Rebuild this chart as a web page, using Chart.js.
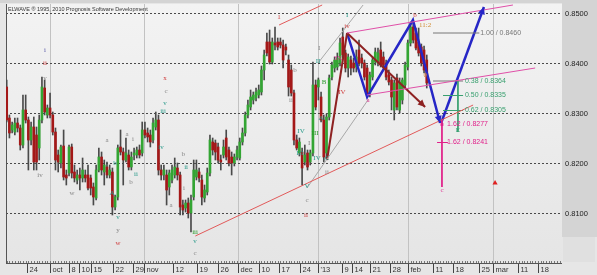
<!DOCTYPE html>
<html>
<head>
<meta charset="utf-8">
<script src="https://cdn.jsdelivr.net/npm/chart.js@4"></script>
<style>
  html, body { margin: 0; padding: 0; background: #e8e8e8; }
  canvas { display: block; }
</style>
</head>
<body>
<canvas id="chart" width="597" height="275"></canvas>
<script>
// daily candles, one slot per bar
const opens = [
  0.8352, 0.8290, 0.8266, 0.8262, 0.8280, 0.8270, 0.8236, 0.8306, 0.8286, 0.8246,
  0.8272, 0.8256, 0.8230, 0.8286, 0.8350, 0.8296, 0.8310, 0.8296, 0.8262, 0.8216,
  0.8200, 0.8234, 0.8176, 0.8180, 0.8232, 0.8182, 0.8166, 0.8176, 0.8170, 0.8176,
  0.8176, 0.8170, 0.8152, 0.8130, 0.8186, 0.8212, 0.8182, 0.8192, 0.8176, 0.8182,
  0.8112, 0.8132, 0.8232, 0.8222, 0.8206, 0.8216, 0.8192, 0.8216, 0.8216, 0.8226,
  0.8220, 0.8266, 0.8260, 0.8256, 0.8246, 0.8272, 0.8286, 0.8186, 0.8176, 0.8176,
  0.8152, 0.8166, 0.8176, 0.8190, 0.8176, 0.8116, 0.8110, 0.8120, 0.8100, 0.8132,
  0.8172, 0.8182, 0.8166, 0.8130, 0.8142, 0.8180, 0.8242, 0.8240, 0.8232, 0.8206,
  0.8216, 0.8250, 0.8226, 0.8212, 0.8200, 0.8212, 0.8210, 0.8242, 0.8260, 0.8296,
  0.8312, 0.8326, 0.8330, 0.8336, 0.8342, 0.8386, 0.8442, 0.8442, 0.8402, 0.8440,
  0.8442, 0.8442, 0.8436, 0.8432, 0.8406, 0.8386, 0.8340, 0.8246, 0.8220, 0.8222,
  0.8202, 0.8220, 0.8202, 0.8220, 0.8356, 0.8352, 0.8332, 0.8286, 0.8220, 0.8292,
  0.8372, 0.8390, 0.8392, 0.8400, 0.8452, 0.8420, 0.8390, 0.8406, 0.8400, 0.8392,
  0.8426, 0.8410, 0.8400, 0.8390, 0.8340, 0.8372, 0.8402, 0.8400, 0.8426, 0.8412,
  0.8400, 0.8376, 0.8366, 0.8306, 0.8370, 0.8306, 0.8326, 0.8356, 0.8392, 0.8440,
  0.8472, 0.8460, 0.8442, 0.8432, 0.8426, 0.8406
];
const highs = [
  0.8366, 0.8296, 0.8282, 0.8290, 0.8290, 0.8276, 0.8336, 0.8336, 0.8292, 0.8282,
  0.8292, 0.8272, 0.8296, 0.8372, 0.8366, 0.8316, 0.8340, 0.8302, 0.8270, 0.8226,
  0.8236, 0.8266, 0.8186, 0.8236, 0.8238, 0.8196, 0.8186, 0.8190, 0.8210, 0.8186,
  0.8196, 0.8176, 0.8160, 0.8196, 0.8230, 0.8222, 0.8206, 0.8202, 0.8196, 0.8190,
  0.8136, 0.8236, 0.8266, 0.8230, 0.8250, 0.8226, 0.8222, 0.8230, 0.8232, 0.8236,
  0.8282, 0.8282, 0.8270, 0.8266, 0.8290, 0.8302, 0.8296, 0.8196, 0.8196, 0.8186,
  0.8186, 0.8196, 0.8210, 0.8200, 0.8182, 0.8126, 0.8126, 0.8130, 0.8136, 0.8206,
  0.8206, 0.8190, 0.8176, 0.8156, 0.8190, 0.8256, 0.8250, 0.8246, 0.8240, 0.8216,
  0.8246, 0.8266, 0.8232, 0.8222, 0.8218, 0.8234, 0.8250, 0.8270, 0.8302, 0.8326,
  0.8346, 0.8342, 0.8350, 0.8356, 0.8394, 0.8426, 0.8460, 0.8466, 0.8450, 0.8472,
  0.8450, 0.8450, 0.8446, 0.8438, 0.8416, 0.8396, 0.8346, 0.8256, 0.8250, 0.8230,
  0.8236, 0.8226, 0.8226, 0.8402, 0.8366, 0.8370, 0.8342, 0.8296, 0.8298, 0.8376,
  0.8402, 0.8412, 0.8420, 0.8450, 0.8470, 0.8426, 0.8418, 0.8414, 0.8410, 0.8426,
  0.8446, 0.8418, 0.8406, 0.8396, 0.8382, 0.8412, 0.8430, 0.8430, 0.8442, 0.8422,
  0.8406, 0.8386, 0.8372, 0.8366, 0.8378, 0.8370, 0.8370, 0.8402, 0.8446, 0.8482,
  0.8478, 0.8470, 0.8470, 0.8438, 0.8434, 0.8416
];
const lows = [
  0.8282, 0.8250, 0.8260, 0.8256, 0.8262, 0.8226, 0.8230, 0.8280, 0.8186, 0.8236,
  0.8186, 0.8186, 0.8206, 0.8280, 0.8296, 0.8290, 0.8290, 0.8256, 0.8186, 0.8182,
  0.8190, 0.8166, 0.8156, 0.8174, 0.8170, 0.8162, 0.8158, 0.8146, 0.8162, 0.8162,
  0.8146, 0.8136, 0.8116, 0.8126, 0.8182, 0.8176, 0.8156, 0.8170, 0.8170, 0.8096,
  0.8106, 0.8126, 0.8216, 0.8156, 0.8202, 0.8186, 0.8186, 0.8206, 0.8210, 0.8210,
  0.8214, 0.8250, 0.8242, 0.8232, 0.8240, 0.8266, 0.8176, 0.8166, 0.8166, 0.8116,
  0.8136, 0.8160, 0.8170, 0.8166, 0.8096, 0.8096, 0.8102, 0.8090, 0.8062, 0.8126,
  0.8166, 0.8162, 0.8116, 0.8122, 0.8136, 0.8174, 0.8216, 0.8206, 0.8200, 0.8186,
  0.8210, 0.8206, 0.8194, 0.8176, 0.8194, 0.8206, 0.8206, 0.8236, 0.8254, 0.8290,
  0.8306, 0.8318, 0.8324, 0.8330, 0.8336, 0.8366, 0.8414, 0.8398, 0.8398, 0.8426,
  0.8426, 0.8430, 0.8390, 0.8416, 0.8334, 0.8334, 0.8236, 0.8226, 0.8214, 0.8156,
  0.8196, 0.8186, 0.8196, 0.8214, 0.8306, 0.8326, 0.8282, 0.8202, 0.8210, 0.8286,
  0.8366, 0.8382, 0.8386, 0.8394, 0.8410, 0.8382, 0.8372, 0.8376, 0.8382, 0.8382,
  0.8394, 0.8390, 0.8366, 0.8330, 0.8332, 0.8366, 0.8396, 0.8394, 0.8392, 0.8390,
  0.8366, 0.8356, 0.8306, 0.8286, 0.8306, 0.8300, 0.8318, 0.8350, 0.8386, 0.8434,
  0.8440, 0.8426, 0.8414, 0.8394, 0.8380, 0.8350
];
const closes = [
  0.8286, 0.8260, 0.8276, 0.8280, 0.8270, 0.8236, 0.8306, 0.8286, 0.8246, 0.8272,
  0.8202, 0.8202, 0.8286, 0.8352, 0.8302, 0.8310, 0.8296, 0.8262, 0.8206, 0.8202,
  0.8232, 0.8172, 0.8170, 0.8232, 0.8180, 0.8170, 0.8176, 0.8170, 0.8186, 0.8170,
  0.8150, 0.8150, 0.8132, 0.8186, 0.8212, 0.8186, 0.8196, 0.8176, 0.8186, 0.8112,
  0.8132, 0.8230, 0.8222, 0.8206, 0.8220, 0.8192, 0.8212, 0.8220, 0.8226, 0.8216,
  0.8266, 0.8256, 0.8252, 0.8242, 0.8280, 0.8286, 0.8186, 0.8176, 0.8186, 0.8146,
  0.8180, 0.8186, 0.8192, 0.8176, 0.8112, 0.8106, 0.8120, 0.8100, 0.8126, 0.8186,
  0.8186, 0.8170, 0.8132, 0.8146, 0.8180, 0.8246, 0.8226, 0.8222, 0.8206, 0.8202,
  0.8232, 0.8212, 0.8200, 0.8200, 0.8212, 0.8226, 0.8242, 0.8260, 0.8296, 0.8316,
  0.8332, 0.8336, 0.8342, 0.8346, 0.8386, 0.8416, 0.8420, 0.8402, 0.8442, 0.8436,
  0.8432, 0.8436, 0.8406, 0.8426, 0.8352, 0.8340, 0.8246, 0.8230, 0.8242, 0.8190,
  0.8216, 0.8192, 0.8220, 0.8356, 0.8312, 0.8366, 0.8286, 0.8212, 0.8292, 0.8370,
  0.8396, 0.8406, 0.8410, 0.8440, 0.8416, 0.8390, 0.8412, 0.8390, 0.8390, 0.8412,
  0.8400, 0.8400, 0.8372, 0.8336, 0.8376, 0.8406, 0.8422, 0.8420, 0.8396, 0.8396,
  0.8372, 0.8362, 0.8332, 0.8360, 0.8312, 0.8362, 0.8366, 0.8396, 0.8440, 0.8472,
  0.8446, 0.8430, 0.8420, 0.8400, 0.8386, 0.8360
];

const priceTicks = [0.8100, 0.8200, 0.8300, 0.8400, 0.8500];
const dateTickSlots = [7.5, 16, 23, 26.7, 31.1, 39.2, 46.6, 50.7, 61.4, 70.2, 78, 85.2, 93.1, 100.5,
  108.2, 114.7, 123.7, 127.4, 134, 141.4, 148.1, 157.3, 164.7, 174.3, 179.4, 188.7, 196.1];
const dateTickText = ['24', 'oct', '8', '10', '15', '22', '29', 'nov', '12', '19', '26', 'dec', '10', '17',
  '24', "'13", '9', '14', '21', '28', 'feb', '11', '18', '25', 'mar', '11', '18'];
const monthSlots = [16, 50.7, 85.2, 114.7, 148.1, 179.4];

// trend and channel lines [slot, price] pairs
const redTrendLow = [[69.6, 0.8054], [172.1, 0.8316]];
const redTrendHigh = [[100.5, 0.8476], [116.4, 0.8516]];
const grayLineA = [[110.8, 0.8150], [133.3, 0.8326]];
const grayLineB = [[114.9, 0.8400], [131.5, 0.8516]];
const pinkUpper = [[125.6, 0.8460], [186.8, 0.8516]];
const pinkLower = [[133.0, 0.8336], [195.0, 0.8390]];
const darkRedUp = [[118.2, 0.8206], [125.6, 0.8460]];
const darkRedArrow = [[125.6, 0.8460], [154.4, 0.8312]];
const blueZigzag = [[125.6, 0.8460], [133.0, 0.8332], [149.9, 0.8486], [159.9, 0.8280]];
const blueUp = [[160.3, 0.8280], [176.1, 0.8512]];

// projection levels
const greenRatios = [0.38, 0.50, 0.62];
const greenPrices = [0.8364, 0.8335, 0.8305];
const magentaRatios = [1.62, 1.62];
const magentaPrices = [0.8277, 0.8241];
const grayRatio = 1.00;
const grayPrice = 0.8460;

// wave labels: slot, price, text, colour
const waveLabels = [
  [14.1, 0.8426, 'i', '#5a5aa8'], [14.1, 0.8400, 'ii', '#d04040'], [14.1, 0.8370, 'v', '#888'],
  [58.4, 0.8370, 'x', '#d04040'], [58.8, 0.8344, 'c', '#888'], [58.4, 0.8320, 'v', '#2a9a8a'],
  [57.7, 0.8304, 'iii', '#2a9a8a'], [56.9, 0.8232, 'iv', '#2a9a8a'], [65.1, 0.8218, 'b', '#888'],
  [66.2, 0.8192, 'ii', '#2a9a8a'], [65.4, 0.8150, 'i', '#888'], [60.6, 0.8116, 'a', '#888'],
  [69.5, 0.8062, 'iii', '#2a9a2a'], [69.5, 0.8044, 'v', '#2a9a8a'], [69.5, 0.8020, 'c', '#888'],
  [41.1, 0.8092, 'v', '#2a9a8a'], [41.1, 0.8066, 'y', '#888'], [41.1, 0.8040, 'w', '#d04040'],
  [12.3, 0.8176, 'iv', '#888'], [24.1, 0.8140, 'w', '#888'], [37.0, 0.8246, 'a', '#888'],
  [40.0, 0.8200, 'b', '#2a9a8a'], [38.9, 0.8140, 'A', '#2a9a8a'], [44.4, 0.8258, 'a', '#888'],
  [46.6, 0.8248, 'i', '#888'], [45.9, 0.8162, 'b', '#888'], [47.7, 0.8178, 'ii', '#2a9a8a'],
  [100.5, 0.8492, '1', '#d04040'], [115.3, 0.8430, 'I', '#888'], [114.9, 0.8404, 'II', '#2a9a8a'],
  [117.1, 0.8362, 'B', '#2a9a2a'], [116.0, 0.8290, 'A', '#2a9a8a'], [125.6, 0.8496, 'I', '#2a9a8a'],
  [125.6, 0.8474, 'iv', '#d04040'], [122.3, 0.8410, '3X', '#e03090'], [123.7, 0.8342, 'IV', '#d04040'],
  [133.3, 0.8326, 'a', '#e03090'], [150.7, 0.8496, 'b', '#d04040'], [154.4, 0.8476, '11:2', '#d08a30'],
  [154.4, 0.8376, '0', '#d08a30'], [106.4, 0.8386, 'b', '#888'], [104.9, 0.8326, 'ii', '#888'],
  [108.6, 0.8264, 'IV', '#2a9a8a'], [108.2, 0.8220, 'III', '#2a9a8a'], [111.6, 0.8240, 'I', '#888'],
  [113.8, 0.8260, 'III', '#2a9a2a'], [114.5, 0.8210, 'IV', '#2a9a8a'], [118.2, 0.8210, 'C', '#2a9a8a'],
  [110.8, 0.8154, 'V', '#2a9a8a'], [110.8, 0.8126, 'c', '#888'], [110.4, 0.8096, 'ii', '#d04040'],
  [118.2, 0.8182, 'ii', '#888'], [166.5, 0.8266, 'E', '#2a9a6a'], [160.6, 0.8146, 'c', '#e03090']
];

const toXY = pts => pts.map(([x, y]) => ({ x, y }));
const slots = opens.map((_, i) => i);

function lineSet(pts, color, width, extra) {
  return Object.assign({
    type: 'line', data: toXY(pts), borderColor: color, borderWidth: width,
    pointRadius: 0, fill: false, tension: 0, order: 1,
  }, extra || {});
}

function arrowHead(ctx, x0, y0, x1, y1, size, color) {
  const ang = Math.atan2(y1 - y0, x1 - x0);
  ctx.fillStyle = color;
  ctx.beginPath();
  ctx.moveTo(x1, y1);
  ctx.lineTo(x1 - size * Math.cos(ang - 0.45), y1 - size * Math.sin(ang - 0.45));
  ctx.lineTo(x1 - size * Math.cos(ang + 0.45), y1 - size * Math.sin(ang + 0.45));
  ctx.closePath();
  ctx.fill();
}

const fibStartSlot = 157.3, fibEndSlot = 168.4, greenStartSlot = 161;
const greenSlot = 166.5, magentaSlot = 160.6;

const datasets = [
  {
    label: 'wicks', data: slots.map(i => ({ x: i, y: [lows[i], highs[i]] })),
    backgroundColor: '#4a4a4a', barThickness: 1, grouped: false, order: 5, minBarLength: 1,
  },
  {
    label: 'bodies', data: slots.map(i => ({ x: i, y: [opens[i], closes[i]] })),
    backgroundColor: slots.map(i => closes[i] >= opens[i] ? '#33a533' : '#a41818'),
    barThickness: 2, grouped: false, order: 4, minBarLength: 1,
  },
  lineSet(redTrendLow, '#e25a5a', 1),
  lineSet(redTrendHigh, '#e25a5a', 1),
  lineSet(grayLineA, '#a8a8a8', 1),
  lineSet(grayLineB, '#a8a8a8', 1),
  lineSet(pinkUpper, '#e050a8', 1),
  lineSet(pinkLower, '#e050a8', 1),
  lineSet([[fibStartSlot, grayPrice], [fibEndSlot + 6, grayPrice]], '#777', 1),
  lineSet([[fibStartSlot, greenPrices[0]], [fibEndSlot, greenPrices[0]]], '#777', 1),
  lineSet([[greenStartSlot, greenPrices[1]], [fibEndSlot, greenPrices[1]]], '#3aa070', 1),
  lineSet([[greenStartSlot, greenPrices[2]], [fibEndSlot, greenPrices[2]]], '#3aa070', 1),
  lineSet([[greenSlot, greenPrices[0]], [greenSlot, 0.8262]], '#3aa070', 1),
  lineSet([[magentaSlot, 0.8286], [magentaSlot, 0.8152]], '#e0208a', 1),
  lineSet([[magentaSlot - 1.8, magentaPrices[1]], [magentaSlot + 2.2, magentaPrices[1]]], '#e0208a', 1),
  lineSet(darkRedUp, '#8e2222', 2),
  lineSet(darkRedArrow, '#8e2222', 2, { arrow: true }),
  lineSet(blueZigzag, '#2626c6', 2.5, { arrow: true }),
  lineSet(blueUp, '#2626c6', 2.5, { arrow: true }),
  lineSet([[180.2, 0.8160]], '#e02020', 0, { showLine: false, pointRadius: 3, pointStyle: 'triangle', pointBackgroundColor: '#e02020' }),
  lineSet([[magentaSlot, magentaPrices[0]]], '#e0208a', 0, { showLine: false, pointRadius: 2, pointStyle: 'rect', pointBackgroundColor: '#e0208a' }),
];

const decor = {
  id: 'decor',
  beforeDraw(chart) {
    const { ctx, chartArea: a, scales: { x, y } } = chart;
    const W = chart.width, H = chart.height;
    ctx.save();
    ctx.fillStyle = '#e6e6e6';
    ctx.fillRect(0, 0, W, H);
    const g = ctx.createLinearGradient(0, a.top, 0, a.bottom);
    g.addColorStop(0, '#f3f3f3');
    g.addColorStop(1, '#e5e5e5');
    ctx.fillStyle = g;
    ctx.fillRect(a.left, a.top, a.right - a.left, a.bottom - a.top);
    ctx.fillStyle = '#d4d4d4';
    ctx.fillRect(0, 0, W, 3);
    ctx.fillRect(a.right, 0, W - a.right, a.bottom - 26);
    ctx.fillStyle = '#e0e0e0';
    ctx.fillRect(a.right + 1, a.bottom - 26, W - a.right - 3, 25);

    const hline = (x0, y0, x1, y1) => { ctx.beginPath(); ctx.moveTo(x0, y0); ctx.lineTo(x1, y1); ctx.stroke(); };

    ctx.lineWidth = 1;
    ctx.strokeStyle = '#c2c2c2';
    monthSlots.forEach(s => {
      const px = Math.round(x.getPixelForValue(s)) + 0.5;
      hline(px, a.top, px, a.bottom);
    });

    ctx.setLineDash([2, 2]);
    ctx.strokeStyle = '#4a4a4a';
    priceTicks.forEach(p => {
      const py = Math.round(y.getPixelForValue(p)) + 0.5;
      hline(a.left, py, a.right, py);
    });
    ctx.setLineDash([]);

    ctx.fillStyle = '#222';
    ctx.font = '7.5px "Liberation Sans", Arial, sans-serif';
    ctx.textBaseline = 'middle';
    ctx.textAlign = 'left';
    priceTicks.forEach(p => ctx.fillText(p.toFixed(4), a.right + 3, y.getPixelForValue(p) + 0.5));

    // frame and time axis
    ctx.strokeStyle = '#555';
    hline(a.left + 0.5, a.top, a.left + 0.5, a.bottom);
    hline(a.left, a.bottom + 0.5, a.right, a.bottom + 0.5);
    ctx.strokeStyle = '#777';
    for (let s = 0; s <= x.max; s++) {
      const px = Math.round(x.getPixelForValue(s)) + 0.5;
      hline(px, a.bottom - 2, px, a.bottom);
    }
    ctx.strokeStyle = '#444';
    ctx.fillStyle = '#333';
    ctx.textBaseline = 'alphabetic';
    dateTickSlots.forEach((s, i) => {
      const px = Math.round(x.getPixelForValue(s)) + 0.5;
      hline(px, a.bottom + 1, px, a.bottom + 10);
      ctx.fillText(dateTickText[i], px + 2, a.bottom + 9);
    });

    ctx.font = '5.5px "Liberation Sans", Arial, sans-serif';
    ctx.fillStyle = '#333';
    ctx.fillText('ELWAVE \u00AE 1995, 2010 Prognosis Software Development', a.left + 2, a.top + 7);
    ctx.restore();
  },
  afterDatasetsDraw(chart) {
    const { ctx, scales: { x, y } } = chart;
    ctx.save();
    chart.data.datasets.forEach((ds, i) => {
      if (!ds.arrow) return;
      const pts = chart.getDatasetMeta(i).data;
      const p0 = pts[pts.length - 2], p1 = pts[pts.length - 1];
      arrowHead(ctx, p0.x, p0.y, p1.x, p1.y, 8, ds.borderColor);
    });

    ctx.font = '7px "Liberation Serif", "DejaVu Serif", serif';
    ctx.textAlign = 'center';
    ctx.textBaseline = 'middle';
    waveLabels.forEach(([s, p, t, c]) => {
      ctx.fillStyle = c;
      ctx.fillText(t, x.getPixelForValue(s), y.getPixelForValue(p));
    });

    ctx.font = '7px "Liberation Sans", Arial, sans-serif';
    ctx.textAlign = 'left';
    ctx.fillStyle = '#777';
    ctx.fillText(grayRatio.toFixed(2) + ' / ' + grayPrice.toFixed(4), x.getPixelForValue(fibEndSlot + 6.3), y.getPixelForValue(grayPrice));
    ctx.fillStyle = '#3aa070';
    greenRatios.forEach((r, i) => {
      ctx.fillText(r.toFixed(2) + ' / ' + greenPrices[i].toFixed(4), x.getPixelForValue(fibEndSlot + 0.7), y.getPixelForValue(greenPrices[i]));
    });
    ctx.fillStyle = '#e0208a';
    magentaRatios.forEach((r, i) => {
      ctx.fillText(r.toFixed(2) + ' / ' + magentaPrices[i].toFixed(4), x.getPixelForValue(magentaSlot + 1.9), y.getPixelForValue(magentaPrices[i]));
    });
    ctx.restore();
  }
};

new Chart(document.getElementById('chart'), {
  type: 'bar',
  data: { datasets },
  options: {
    responsive: false,
    animation: false,
    devicePixelRatio: 1,
    layout: { padding: { left: 6, top: 4, right: 35, bottom: 12 } },
    plugins: { legend: { display: false }, tooltip: { enabled: false } },
    scales: {
      x: { type: 'linear', min: -0.26, max: 204.9, offset: false, display: false },
      y: { min: 0.8000, max: 0.8518, display: false },
    },
  },
  plugins: [decor],
});
</script>
</body>
</html>
